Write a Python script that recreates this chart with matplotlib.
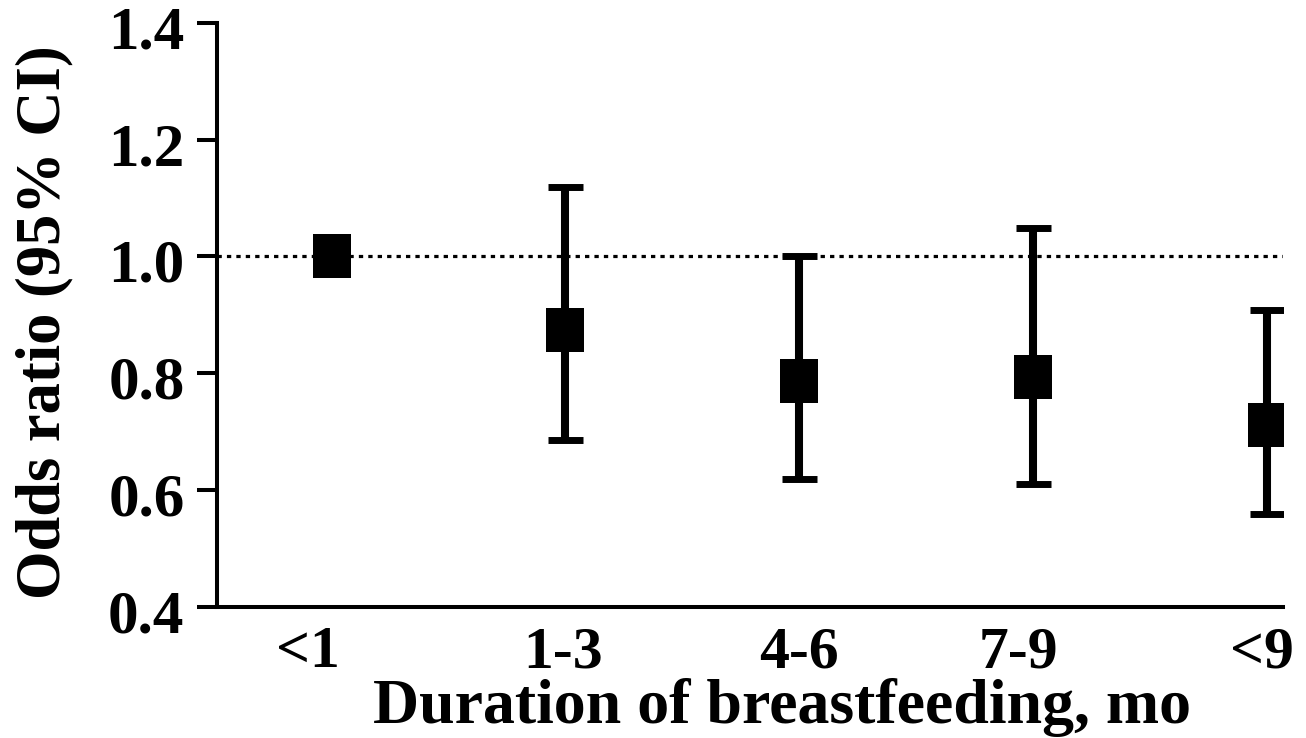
import numpy as np
import matplotlib
matplotlib.use("Agg")
import matplotlib.pyplot as plt
from matplotlib.path import Path
from matplotlib.transforms import ScaledTranslation

# ---- data ----
categories = ["<1", "1-3", "4-6", "7-9", "<9"]
odds_ratio = [1.00, 0.873, 0.786, 0.794, 0.711]
ci_lower = [np.nan, 0.685, 0.619, 0.610, 0.558]
ci_upper = [np.nan, 1.119, 1.001, 1.049, 0.908]
reference_value = 1.0
y_ticks = [0.4, 0.6, 0.8, 1.0, 1.2, 1.4]
y_tick_labels = ["0.4", "0.6", "0.8", "1.0", "1.2", "1.4"]

plt.rcParams['font.family'] = ['Liberation Serif', 'DejaVu Serif']
plt.rcParams['font.weight'] = 'bold'

fig = plt.figure(figsize=(13.06, 7.38), dpi=100)
ax = fig.add_axes([217/1306, 1-606.7/738, (1283-217)/1306, (606.7-22.7)/738])

x = np.arange(len(categories))
or_arr = np.array(odds_ratio)
lo = np.array(ci_lower)
hi = np.array(ci_upper)
mask = ~np.isnan(lo)

ax.axhline(reference_value, color='black', lw=2.3, linestyle=(0, (1.35, 1.6)), zorder=1)

ax.errorbar(x[mask], or_arr[mask],
            yerr=[or_arr[mask]-lo[mask], hi[mask]-or_arr[mask]],
            fmt='none', ecolor='black', elinewidth=5.8, capsize=12.6, capthick=5.0, zorder=2)

rect = Path([(-37, -43), (37, -43), (37, 43), (-37, 43), (-37, -43)],
            [Path.MOVETO, Path.LINETO, Path.LINETO, Path.LINETO, Path.CLOSEPOLY])
ax.plot(x, or_arr, linestyle='none', marker=rect, markersize=31,
        markerfacecolor='black', markeredgewidth=0, zorder=3)

ax.set_xlim(-0.4907, 4.0697)
ax.set_ylim(0.4, 1.4)

ax.spines['top'].set_visible(False)
ax.spines['right'].set_visible(False)
ax.spines['left'].set_linewidth(2.9)
ax.spines['bottom'].set_linewidth(2.9)

ax.set_yticks(y_ticks)
ax.set_yticklabels(y_tick_labels, fontsize=44, fontweight='bold')
ax.tick_params(axis='y', length=14.4, width=2.9, pad=9, direction='out')
for lab in ax.get_yticklabels():
    lab.set_transform(lab.get_transform() + ScaledTranslation(0, -4/100, fig.dpi_scale_trans))

ax.set_xticks([-0.10, 0.99, 2.0, 2.936, 3.98])
ax.set_xticklabels(categories, fontsize=43, fontweight='bold')
ax.tick_params(axis='x', length=0, pad=14)

ax.set_xlabel("Duration of breastfeeding, mo", fontsize=46, fontweight='bold')
ax.xaxis.set_label_coords(0.53, -0.199)
ax.xaxis.label.set_va('baseline')
ax.set_ylabel("Odds ratio (95% CI)", fontsize=45, fontweight='bold')
ax.yaxis.set_label_coords(-0.135, 0.4875)

fig.savefig("out.png", dpi=100)
